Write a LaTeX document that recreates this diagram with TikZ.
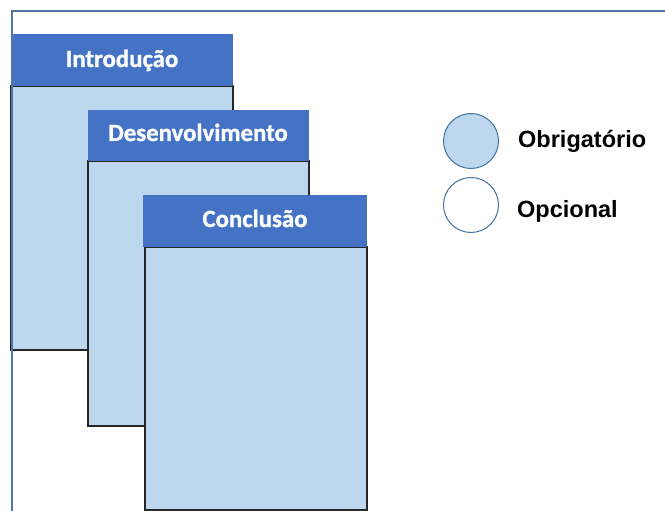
\documentclass[tikz,border=0pt]{standalone}
\usepackage{fontspec}
\setmainfont{Liberation Sans}
\newfontfamily\headfont{Carlito}[BoldFeatures={FakeBold=1.2}]
\definecolor{headblue}{HTML}{4472C4}
\definecolor{bodyblue}{HTML}{BDD7EE}
\definecolor{framecol}{HTML}{5075A8}
\definecolor{ringcol}{HTML}{41719C}
\begin{document}
\begin{tikzpicture}[x=1pt,y=-1pt,
  pagebody/.style={draw=black!85, line width=1.4pt, fill=bodyblue,
    anchor=north west, inner sep=0pt, outer sep=0pt},
  pagehead/.style={fill=headblue, anchor=north west, inner sep=0pt, outer sep=0pt},
  headtext/.style={text=white!96!bodyblue, font=\headfont\bfseries\fontsize{24.8}{27}\selectfont,
    anchor=base, inner sep=0pt},
  legtext/.style={font=\bfseries\fontsize{23.5}{27}\selectfont, anchor=base west, inner sep=0pt},
  ring/.style={circle, draw=ringcol, line width=1pt, minimum size=55pt, inner sep=0pt}]
\useasboundingbox (0,0) rectangle (665,511);
\fill[white] (0,0) rectangle (665,511);

% Introdução
\node[pagebody, minimum width=222pt, minimum height=264pt] (introbody) at (11,86) {};
\node[pagehead, minimum width=222pt, minimum height=52pt] (introhead) at (11,34) {};
\node[headtext] (introtext) at (122,67) {Introdução};

% Desenvolvimento
\node[pagebody, minimum width=221pt, minimum height=265pt] (devbody) at (88,161) {};
\node[pagehead, minimum width=221pt, minimum height=51pt] (devhead) at (88,110) {};
\node[headtext] (devtext) at (198,141) {Desenvolvimento};

% Conclusão
\node[pagebody, minimum width=222pt, minimum height=263pt] (conbody) at (145,247) {};
\node[pagehead, minimum width=224pt, minimum height=52pt] (conhead) at (143,195) {};
\node[headtext] (context) at (255,227) {Conclusão};

% outer frame (top and left edges)
\draw[framecol, line width=2pt] (11.5,530) -- (11.5,11.5) -- (690,11.5);

% legend
\node[ring, fill=bodyblue] (reqring) at (471,141) {};
\node[ring, fill=white] (optring) at (471,205) {};
\node[legtext] (reqtext) at (518,147) {Obrigatório};
\node[legtext] (opttext) at (517,217) {Opcional};
\end{tikzpicture}
\end{document}
